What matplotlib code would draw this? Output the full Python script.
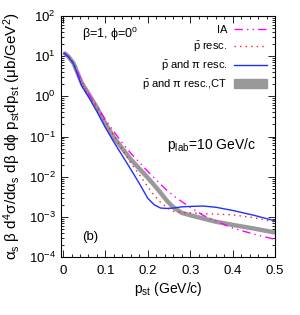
import numpy as np
import matplotlib
matplotlib.use("Agg")
import matplotlib.pyplot as plt
from matplotlib.patches import Patch
from matplotlib.lines import Line2D

plt.rcParams['font.family'] = ['Liberation Sans', 'DejaVu Sans']
plt.rcParams['mathtext.fontset'] = 'custom'
plt.rcParams['mathtext.rm'] = 'Liberation Sans'
plt.rcParams['mathtext.it'] = 'Liberation Sans'
plt.rcParams['mathtext.bf'] = 'Liberation Sans'

p_st = [0.002, 0.013, 0.025, 0.044, 0.064, 0.08, 0.1, 0.12, 0.14, 0.16, 0.18, 0.2,
        0.215, 0.23, 0.245, 0.26, 0.28, 0.3, 0.33, 0.36, 0.4, 0.45, 0.5]
log_ia = [1.09, 0.99, 0.83, 0.36, 0.0, -0.25, -0.58, -0.88, -1.16, -1.42, -1.64, -1.87,
          -2.03, -2.19, -2.34, -2.47, -2.62, -2.76, -2.96, -3.10, -3.28, -3.43, -3.56]
log_pbar = [1.09, 0.99, 0.82, 0.33, -0.02, -0.28, -0.64, -0.98, -1.32, -1.66, -1.95, -2.25,
            -2.47, -2.64, -2.77, -2.86, -2.89, -2.90, -2.92, -2.93, -2.95, -3.02, -3.13]
log_pi = [1.08, 0.98, 0.81, 0.26, -0.08, -0.38, -0.78, -1.14, -1.48, -1.82, -2.17, -2.54,
          -2.70, -2.78, -2.79, -2.78, -2.75, -2.74, -2.73, -2.76, -2.84, -2.96, -3.10]
log_ct = [1.09, 0.99, 0.82, 0.34, 0.0, -0.28, -0.68, -1.02, -1.30, -1.57, -1.80, -2.03,
          -2.21, -2.40, -2.60, -2.76, -2.90, -2.96, -3.04, -3.12, -3.20, -3.29, -3.39]

labels = ["IA", r"$\bar{\rm p}$ resc.", r"$\bar{\rm p}$ and $\pi$ resc.",
          r"$\bar{\rm p}$ and $\pi$ resc.,CT"]

fig = plt.figure(figsize=(3.0, 3.15), dpi=100)
ax = fig.add_axes([0.203, 0.184, 0.714, 0.765])

x = np.array(p_st)
ax.plot(x, 10**np.array(log_ct), color='#999999', lw=3.2, solid_capstyle='butt', zorder=2)
ax.plot(x, 10**np.array(log_pbar), color='#ff2020', lw=1.0, ls=(0, (1, 3)), zorder=3)
ax.plot(x, 10**np.array(log_ia), color='#ff00ff', lw=1.0, ls=(0, (6, 3, 1, 3, 1, 3)), zorder=3)
ax.plot(x, 10**np.array(log_pi), color='#1f2fff', lw=1.0, zorder=4)

ax.set_yscale('log')
ax.set_xlim(-0.005, 0.5)
ax.set_ylim(1e-4, 1e2)
ax.set_xticks([0, 0.1, 0.2, 0.3, 0.4, 0.5])
ax.set_xticklabels(['0', '0.1', '0.2', '0.3', '0.4', '0.5'])
ax.set_xticks(np.arange(0, 0.501, 0.02), minor=True)
ax.set_yticks([1e-4, 1e-3, 1e-2, 1e-1, 1e0, 1e1, 1e2])
ax.set_yticklabels([r'10$^{-4}$', r'10$^{-3}$', r'10$^{-2}$', r'10$^{-1}$',
                    r'10$^{0}$', r'10$^{1}$', r'10$^{2}$'])
ax.tick_params(which='both', direction='in', top=True, right=True, labelsize=9.5, width=0.6)
ax.tick_params(axis='x', pad=6)
ax.tick_params(which='major', length=5)
ax.tick_params(which='minor', length=2.5)
for s in ax.spines.values():
    s.set_linewidth(0.8)

ax.set_xlabel(r'p$_{\rm st}$ (GeV/c)', fontsize=10, labelpad=2)
ax.set_ylabel(r'$\alpha_{\rm s}$ $\beta$ d$^4\sigma$/d$\alpha_{\rm s}$ d$\beta$ d$\phi$ p$_{\rm st}$dp$_{\rm st}$ ($\mu$b/GeV$^2$)',
              fontsize=11, labelpad=4)

ax.text(0.098, 0.923, r'$\beta$=1, $\phi$=0$^{\rm o}$', transform=ax.transAxes, fontsize=9, va='center')
ax.text(0.497, 0.465, r'p$_{\rm lab}$=10 GeV/c', transform=ax.transAxes, fontsize=10, va='center')
ax.text(0.099, 0.083, '(b)', transform=ax.transAxes, fontsize=9.5, va='center')

handles = [Line2D([], [], color='#ff00ff', lw=1.0, ls=(0, (6, 3, 1, 3, 1, 3))),
           Line2D([], [], color='#ff2020', lw=1.0, ls=(0, (1, 3))),
           Line2D([], [], color='#1f2fff', lw=1.0),
           Patch(facecolor='#999999', edgecolor='#999999')]
ax.legend(handles, labels, loc='upper right', bbox_to_anchor=(1.0, 0.995), frameon=False,
          markerfirst=False, fontsize=8, handlelength=3.0, handleheight=0.8,
          handletextpad=0.6, labelspacing=0.42, borderaxespad=0.3)

fig.savefig('out.png', dpi=100)
